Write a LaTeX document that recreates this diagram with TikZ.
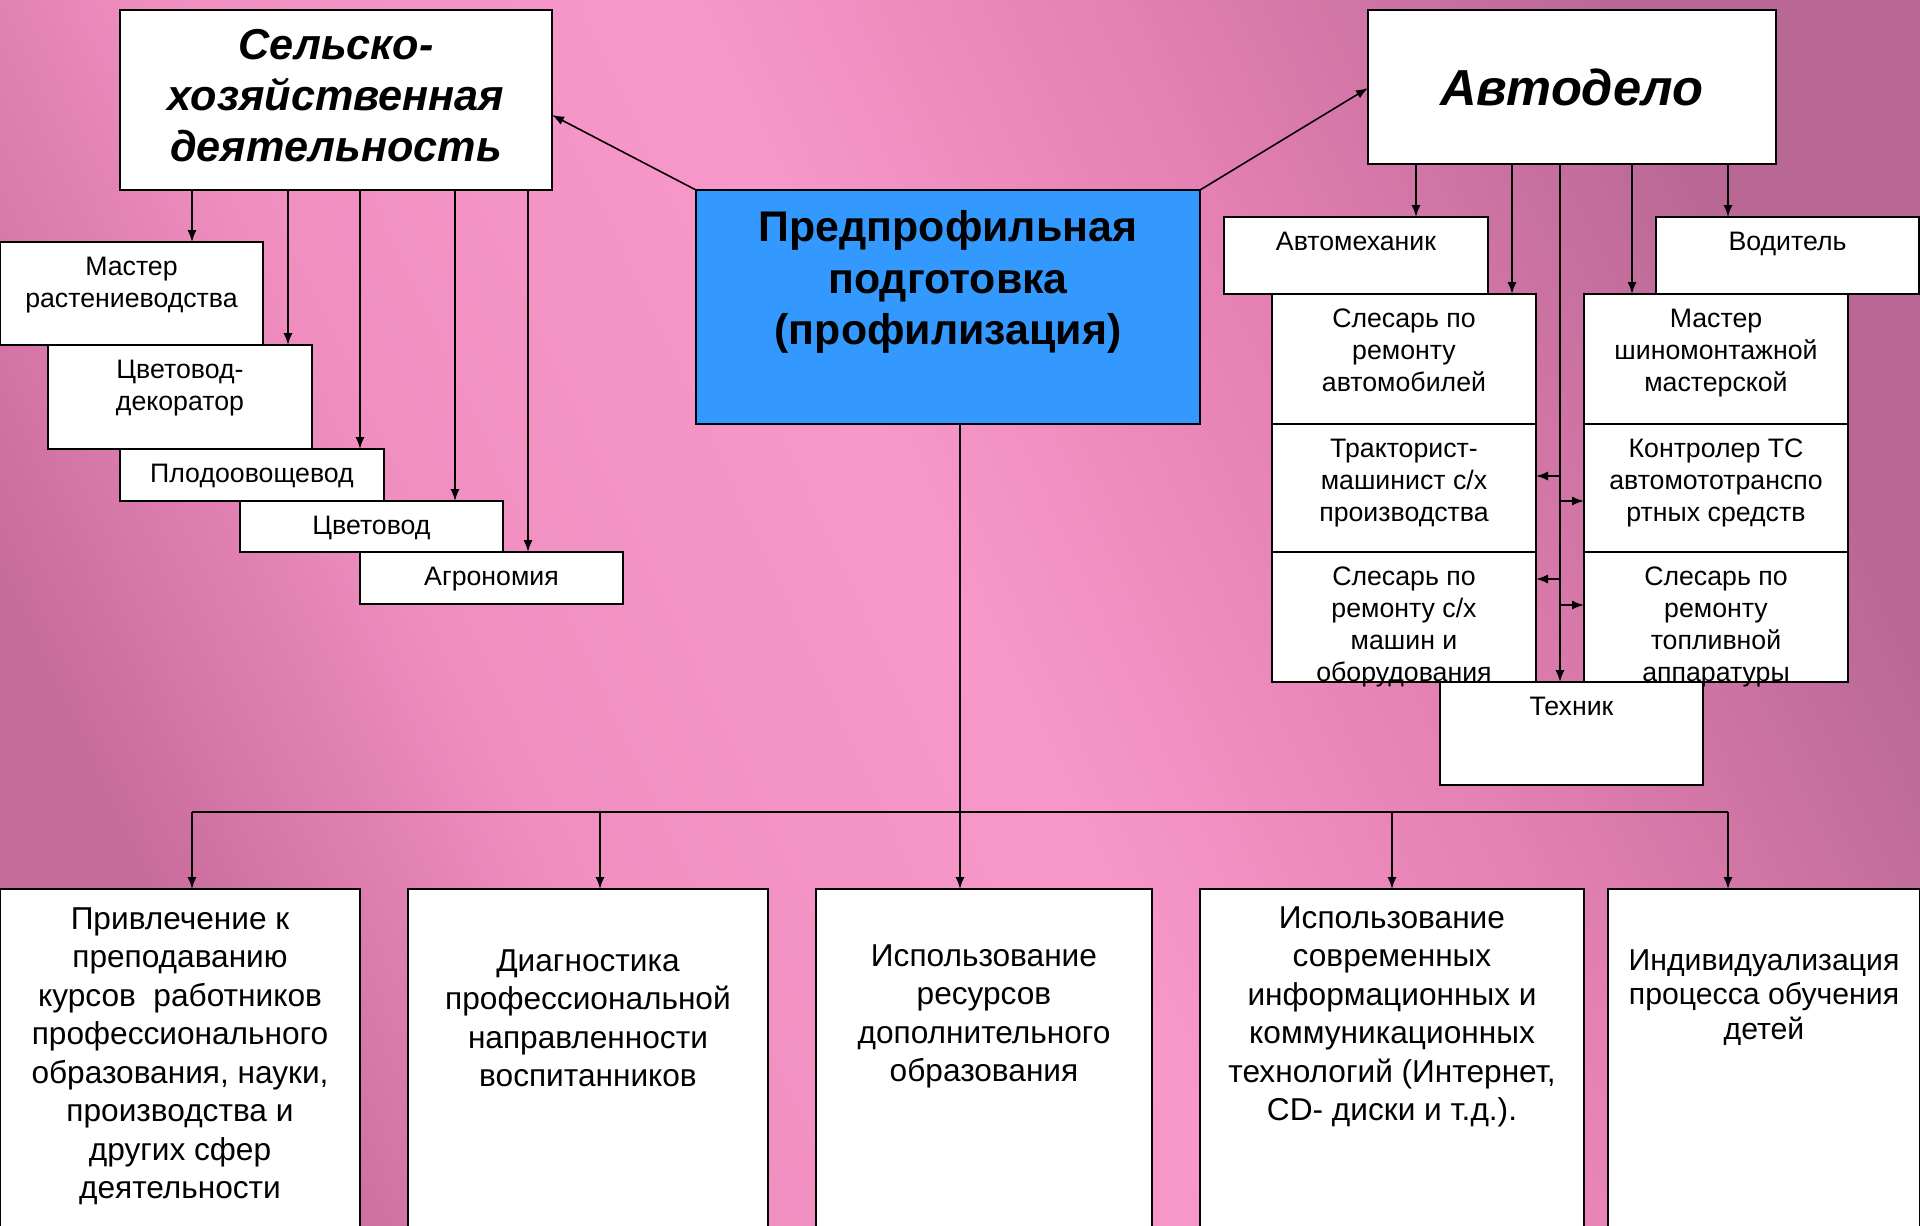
\documentclass[tikz,border=0pt]{standalone}
\usepackage{fontspec}
\setmainfont{Liberation Sans}
\usepackage{xcolor}
\definecolor{bgdarkA}{RGB}{200,108,155}
\definecolor{bgmidA}{RGB}{240,142,192}
\definecolor{bglight}{RGB}{248,152,202}
\definecolor{bgmidB}{RGB}{228,128,178}
\definecolor{bgdarkB}{RGB}{185,104,150}
\definecolor{prepblue}{RGB}{51,153,255}
\usepackage{tikz}
\usetikzlibrary{arrows.meta}
\pgfdeclarehorizontalshading{pinkbg}{100bp}{color(0bp)=(bgdarkA); color(25bp)=(bgdarkA); color(36bp)=(bgmidA); color(50bp)=(bglight); color(62bp)=(bgmidB); color(75bp)=(bgdarkB); color(100bp)=(bgdarkB)}
\tikzset{
  card/.style={draw=black, line width=0.6pt, fill=white, inner sep=0pt, outer sep=0pt, anchor=north west},
  cardtext/.style={anchor=north, inner sep=0pt, align=center, font=\fontsize{7.6}{9.1}\selectfont},
  bigtext/.style={anchor=north, inner sep=0pt, align=center, font=\fontsize{9}{10.95}\selectfont},
  arr/.style={-{Latex[length=1.2mm, width=0.9mm]}, line width=0.45pt},
}

\begin{document}
\begin{tikzpicture}[x=0.1mm, y=-0.1mm]
  \useasboundingbox (0,0) rectangle (1920,1225);
  \clip (0,0) rectangle (1920,1225);

  % === Background ===
  \shade[shading=pinkbg, shading angle=25] (0,0) rectangle (1920,1225);

  % Function to draw a box with its text hanging from the top
  \newcommand{\profcard}[6]{
    \node[card, minimum width=#4*0.1mm, minimum height=#5*0.1mm] (#1) at (#2,#3) {};
    \node[cardtext] (#1-t) at ([yshift=-1.45mm]#1.north) {#6};
  }

  % === Head boxes ===
  \node[card, minimum width=432*0.1mm, minimum height=180*0.1mm] (selsk) at (120,10) {};
  \node[anchor=north, inner sep=0pt, align=center, font=\bfseries\itshape\fontsize{12.3}{14.5}\selectfont] (selsk-t) at ([yshift=-1.85mm]selsk.north) {Сельско-\\хозяйственная\\деятельность};

  \node[card, minimum width=408*0.1mm, minimum height=154*0.1mm, font=\bfseries\itshape\fontsize{14.4}{17}\selectfont] (avto) at (1368,10) {Автодело};

  \node[card, fill=prepblue, minimum width=504*0.1mm, minimum height=234*0.1mm] (prep) at (696,190) {};
  \node[anchor=north, inner sep=0pt, align=center, font=\bfseries\fontsize{12.2}{14.6}\selectfont] (prep-t) at ([yshift=-2mm]prep.north) {Предпрофильная\\подготовка\\(профилизация)};

  % === Agriculture staircase ===
  \profcard{mrast}{0}{242}{263}{103}{Мастер\\растениеводства}
  \profcard{cdek}{48}{345}{264}{104}{Цветовод-\\декоратор}
  \profcard{plod}{120}{449}{264}{52}{Плодоовощевод}
  \profcard{cvet}{240}{501}{263}{51}{Цветовод}
  \profcard{agro}{360}{552}{263}{52}{Агрономия}

  % === Car trade columns ===
  \profcard{amech}{1224}{217}{264}{77}{Автомеханик}
  \profcard{vodit}{1656}{217}{263}{77}{Водитель}
  \profcard{slavto}{1272}{294}{264}{130}{Слесарь по\\ремонту\\автомобилей}
  \profcard{shin}{1584}{294}{264}{130}{Мастер\\шиномонтажной\\мастерской}
  \profcard{trakt}{1272}{424}{264}{128}{Тракторист-\\машинист с/х\\производства}
  \profcard{kontr}{1584}{424}{264}{128}{Контролер ТС\\автомототранспо\\ртных средств}
  \profcard{slsx}{1272}{552}{264}{130}{Слесарь по\\ремонту с/х\\машин и\\оборудования}
  \profcard{sltop}{1584}{552}{264}{130}{Слесарь по\\ремонту\\топливной\\аппаратуры}
  \profcard{tech}{1440}{682}{263}{103}{Техник}

  % === Bottom row ===
  \node[card, minimum width=360*0.1mm, minimum height=380*0.1mm] (attract) at (0,889) {};
  \node[bigtext] (attract-t) at ([yshift=-1.77mm]attract.north) {Привлечение к\\преподаванию\\курсов\ \ работников\\профессионального\\образования, науки,\\производства и\\других сфер\\деятельности};
  \node[card, minimum width=360*0.1mm, minimum height=380*0.1mm] (diagn) at (408,889) {};
  \node[bigtext] (diagn-t) at ([yshift=-5.97mm]diagn.north) {Диагностика\\профессиональной\\направленности\\воспитанников};
  \node[card, minimum width=336*0.1mm, minimum height=380*0.1mm] (dopobr) at (816,889) {};
  \node[bigtext] (dopobr-t) at ([yshift=-5.47mm]dopobr.north) {Использование\\ресурсов\\дополнительного\\образования};
  \node[card, minimum width=384*0.1mm, minimum height=380*0.1mm] (ikt) at (1200,889) {};
  \node[bigtext] (ikt-t) at ([yshift=-1.67mm]ikt.north) {Использование\\современных\\информационных и\\коммуникационных\\технологий (Интернет,\\CD- диски и т.д.).};
  \node[card, minimum width=312*0.1mm, minimum height=380*0.1mm] (indiv) at (1608,889) {};
  \node[bigtext, font=\fontsize{8.6}{9.8}\selectfont] (indiv-t) at ([yshift=-6mm]indiv.north) {Индивидуализация\\процесса обучения\\детей};

  % === Connectors ===
  \draw[arr] (prep.north west) -- (selsk.east |- 0,115);
  \draw[arr] (prep.north east) -- (avto.west |- 0,88);

  \foreach \xx/\target in {192/mrast, 288/cdek, 360/plod, 455/cvet, 528/agro}
    \draw[arr] (selsk.south -| \xx,0) -- (\target.north -| \xx,0);

  \foreach \xx/\target in {1416/amech, 1512/slavto, 1632/shin, 1728/vodit}
    \draw[arr] (avto.south -| \xx,0) -- (\target.north -| \xx,0);
  \coordinate (spine) at (avto.south -| 1560,0);
  \draw[arr] (spine) -- (tech.north -| spine);
  \foreach \yy/\target in {476/trakt, 579/slsx}
    \draw[arr] (spine |- 0,\yy) -- (\target.east |- 0,\yy);
  \foreach \yy/\target in {501/kontr, 605/sltop}
    \draw[arr] (spine |- 0,\yy) -- (\target.west |- 0,\yy);

  % bus to the bottom row
  \coordinate (busL) at (192,812);
  \coordinate (busR) at (1728,812);
  \draw[line width=0.45pt] (busL) -- (busR);
  \draw[arr] (prep.south -| 960,0) -- (dopobr.north -| 960,0);
  \foreach \xx/\target in {192/attract, 600/diagn, 1392/ikt, 1728/indiv}
    \draw[arr] (busL -| \xx,0) -- (\target.north -| \xx,0);
\end{tikzpicture}
\end{document}
